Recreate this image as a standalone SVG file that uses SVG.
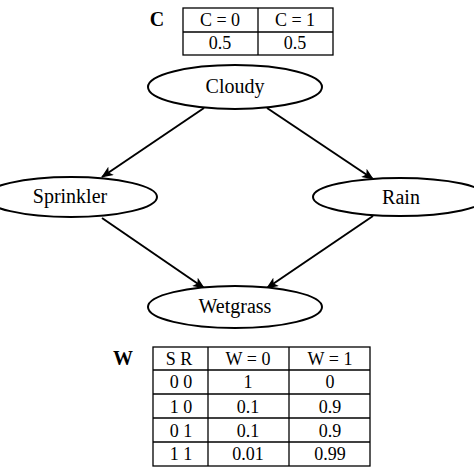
<svg xmlns="http://www.w3.org/2000/svg" width="474" height="474" viewBox="0 0 474 474" font-family="'Liberation Serif', 'DejaVu Serif', serif">
<style>
.n{font-size:20px;text-anchor:middle}
.t{font-size:18px;text-anchor:middle}
.b{font-size:20px;font-weight:bold;text-anchor:middle}
ellipse{fill:#fff;stroke:#000;stroke-width:2}
.tb{fill:none;stroke:#000;stroke-width:1.3}
.e{stroke:#000;stroke-width:2;fill:none;marker-end:url(#ah)}
</style>
<defs>
<marker id="ah" viewBox="0 0 12 10" refX="11" refY="5" markerWidth="12" markerHeight="10" markerUnits="userSpaceOnUse" orient="auto">
<path d="M0,0 L12,5 L0,10 L3,5 Z" fill="#000"/>
</marker>
</defs>
<rect width="474" height="474" fill="#fff"/>
<g id="connectors">
<line class="e" x1="204" y1="108" x2="102" y2="177"/>
<line class="e" x1="267" y1="108" x2="373" y2="179"/>
<line class="e" x1="102" y1="218" x2="204" y2="288"/>
<line class="e" x1="373" y1="216" x2="267" y2="288"/>
</g>
<g id="cloudy"><ellipse cx="235" cy="87" rx="87" ry="22"/><text class="n" x="235" y="93">Cloudy</text></g>
<g id="sprinkler"><ellipse cx="71" cy="197" rx="86" ry="20"/><text class="n" x="70" y="203">Sprinkler</text></g>
<g id="rain"><ellipse cx="400" cy="197" rx="87" ry="19"/><text class="n" x="401" y="204">Rain</text></g>
<g id="wetgrass"><ellipse cx="235" cy="307" rx="87" ry="21"/><text class="n" x="235" y="313">Wetgrass</text></g>
<g id="tableC">
<text class="b" x="157" y="26">C</text>
<rect class="tb" x="183" y="8" width="150" height="47"/>
<line class="tb" x1="183" y1="32" x2="333" y2="32"/>
<line class="tb" x1="258" y1="8" x2="258" y2="55"/>
<text class="t" x="220" y="26">C = 0</text>
<text class="t" x="295" y="26">C = 1</text>
<text class="t" x="220" y="49">0.5</text>
<text class="t" x="295" y="49">0.5</text>
</g>
<g id="tableW">
<text class="b" x="123" y="365">W</text>
<rect class="tb" x="153" y="347" width="217" height="119"/>
<line class="tb" x1="153" y1="370" x2="370" y2="370"/>
<line class="tb" x1="153" y1="394" x2="370" y2="394"/>
<line class="tb" x1="153" y1="418" x2="370" y2="418"/>
<line class="tb" x1="153" y1="442" x2="370" y2="442"/>
<line class="tb" x1="208" y1="347" x2="208" y2="466"/>
<line class="tb" x1="289" y1="347" x2="289" y2="466"/>
<text class="t" x="179" y="365">S R</text>
<text class="t" x="248" y="365">W = 0</text>
<text class="t" x="330" y="365">W = 1</text>
<text class="t" x="181" y="388">0 0</text>
<text class="t" x="248" y="388">1</text>
<text class="t" x="330" y="388">0</text>
<text class="t" x="181" y="413">1 0</text>
<text class="t" x="248" y="413">0.1</text>
<text class="t" x="330" y="413">0.9</text>
<text class="t" x="181" y="437">0 1</text>
<text class="t" x="248" y="437">0.1</text>
<text class="t" x="330" y="437">0.9</text>
<text class="t" x="181" y="460">1 1</text>
<text class="t" x="248" y="460">0.01</text>
<text class="t" x="330" y="460">0.99</text>
</g>
</svg>
